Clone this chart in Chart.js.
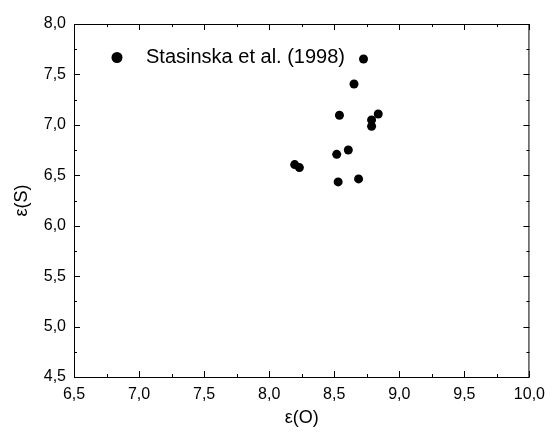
<!DOCTYPE html>
<html>
<head>
<meta charset="utf-8">
<script src="https://cdn.jsdelivr.net/npm/chart.js@4.4.0/dist/chart.umd.min.js"></script>
<style>
  html, body { margin: 0; padding: 0; background: #fff; }
  #wrap { width: 553px; height: 433px; }
</style>
</head>
<body>
<div id="wrap"><canvas id="chart"></canvas></div>
<script>
// epsilon(O) vs epsilon(S), Stasinska et al. (1998)
const epsO = [8.725, 8.652, 8.54, 8.838, 8.787, 8.787, 8.608, 8.519, 8.196, 8.232, 8.687, 8.53];
const epsS = [7.653, 7.405, 7.095, 7.108, 7.049, 6.986, 6.751, 6.708, 6.606, 6.576, 6.464, 6.434];
const seriesName = "Stasinska et al. (1998)";
const xRange = [6.5, 10.0];
const yRange = [4.5, 8.0];

const points = epsO.map((x, i) => ({ x: x, y: epsS[i] }));

const FONT = "Arial, 'Liberation Sans', sans-serif";

function comma(v) {
    return Number(v).toFixed(1).replace(".", ",");
}

// inward ticks on all four sides + the legend drawn inside the plot
const frame = {
    id: "frame",
    afterDraw(chart) {
        const c = chart.ctx;
        const a = chart.chartArea;
        const xs = chart.scales.x;
        const ys = chart.scales.y;
        c.save();
        c.strokeStyle = "#000";
        c.lineWidth = 1;
        c.beginPath();
        for (let v = xRange[0]; v <= xRange[1] + 1e-9; v += 0.25) {
            const px = Math.round(xs.getPixelForValue(v)) + 0.5;
            const major = Math.abs(v * 2 - Math.round(v * 2)) < 1e-6;
            const len = major ? 6 : 3;
            c.moveTo(px, a.bottom); c.lineTo(px, a.bottom - len);
            c.moveTo(px, a.top); c.lineTo(px, a.top + len);
        }
        for (let v = yRange[0]; v <= yRange[1] + 1e-9; v += 0.25) {
            const py = Math.round(ys.getPixelForValue(v)) + 0.5;
            const major = Math.abs(v * 2 - Math.round(v * 2)) < 1e-6;
            const len = major ? 6 : 3;
            c.moveTo(a.left, py); c.lineTo(a.left + len, py);
            c.moveTo(a.right, py); c.lineTo(a.right - len, py);
        }
        c.stroke();
        c.strokeRect(a.left + 0.5, a.top + 0.5, a.right - a.left - 1, a.bottom - a.top);

        // legend
        c.fillStyle = "#000";
        c.beginPath();
        c.arc(117, 57.5, 5.5, 0, Math.PI * 2);
        c.fill();
        c.font = "20px " + FONT;
        c.textBaseline = "middle";
        c.fillText(seriesName, 146, 57.5);
        c.restore();
    }
};

new Chart(document.getElementById("chart"), {
    type: "scatter",
    data: {
        datasets: [{
            label: seriesName,
            data: points,
            backgroundColor: "#000",
            borderColor: "#000",
            pointRadius: 4.5,
            pointHoverRadius: 4.5,
            borderWidth: 0
        }]
    },
    options: {
        responsive: true,
        maintainAspectRatio: false,
        animation: false,
        layout: { padding: { left: 0, right: 21, top: 24, bottom: 0 } },
        plugins: {
            legend: { display: false },
            tooltip: { enabled: false }
        },
        scales: {
            x: {
                type: "linear",
                min: xRange[0],
                max: xRange[1],
                afterFit: s => { s.height = 56; },
                grid: { display: false, drawTicks: false },
                border: { display: false },
                ticks: {
                    stepSize: 0.5,
                    padding: 8,
                    color: "#000",
                    font: { family: FONT, size: 16 },
                    maxRotation: 0,
                    callback: v => comma(v)
                },
                title: {
                    display: true,
                    text: "ε(O)",
                    color: "#000",
                    font: { family: FONT, size: 18 },
                    padding: { top: 4, bottom: 4 }
                }
            },
            y: {
                type: "linear",
                min: yRange[0],
                max: yRange[1],
                afterFit: s => { s.width = 74; },
                grid: { display: false, drawTicks: false },
                border: { display: false },
                ticks: {
                    stepSize: 0.5,
                    padding: 8,
                    color: "#000",
                    font: { family: FONT, size: 16 },
                    callback: v => comma(v)
                },
                title: {
                    display: true,
                    text: "ε(S)",
                    color: "#000",
                    font: { family: FONT, size: 18 },
                    padding: { top: 11, bottom: 4 }
                }
            }
        }
    },
    plugins: [frame]
});
</script>
</body>
</html>
